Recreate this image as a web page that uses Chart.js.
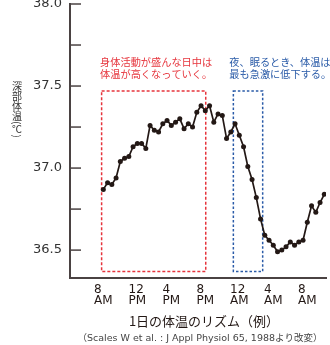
<!DOCTYPE html>
<html>
<head>
<meta charset="utf-8">
<script src="https://cdn.jsdelivr.net/npm/chart.js@4.4.0/dist/chart.umd.min.js"></script>
<style>
  html, body { margin: 0; padding: 0; background: #fff; }
</style>
</head>
<body>
<canvas id="chart" width="330" height="345"></canvas>
<script>
// 🔹 DATA  (core body temperature every 30 min, 8 AM -> 10 AM next day; hour 24 = midnight)
const hours = [8, 8.5, 9, 9.5, 10, 10.5, 11, 11.5, 12, 12.5, 13, 13.5, 14, 14.5, 15, 15.5,
  16, 16.5, 17, 17.5, 18, 18.5, 19, 19.5, 20, 20.5, 21, 21.5, 22, 22.5, 23, 23.5,
  24, 24.5, 25, 25.5, 26, 26.5, 27, 27.5, 28, 28.5, 29, 29.5, 30, 30.5, 31, 31.5,
  32, 32.5, 33, 33.5, 34];
const temps = [36.87, 36.91, 36.90, 36.94, 37.04, 37.06, 37.07, 37.13, 37.15, 37.15,
  37.12, 37.26, 37.23, 37.22, 37.27, 37.29, 37.26, 37.28, 37.30, 37.24,
  37.27, 37.25, 37.34, 37.38, 37.35, 37.38, 37.28, 37.33, 37.32, 37.18,
  37.22, 37.27, 37.20, 37.13, 37.01, 36.93, 36.82, 36.69, 36.59, 36.56,
  36.53, 36.49, 36.50, 36.52, 36.55, 36.53, 36.55, 36.56, 36.67, 36.77,
  36.73, 36.79, 36.84];

const xTickHours = [8, 12, 16, 20, 24, 28, 32];
const xTickLabels = [["8", "AM"], ["12", "PM"], ["4", "PM"], ["8", "PM"], ["12", "AM"], ["4", "AM"], ["8", "AM"]];
const yTicks = [36.5, 36.75, 37.0, 37.25, 37.5, 37.75, 38.0];
const yLabelled = [36.5, 37.0, 37.5, 38.0];

// highlighted ranges: [hour from, hour to, temp from, temp to]
const dayBox = [7.8, 20.05, 36.37, 37.47];
const nightBox = [23.3, 26.75, 36.37, 37.47];

const dayNote = ["身体活動が盛んな日中は", "体温が高くなっていく。"];
const nightNote = ["夜、眠るとき、体温は", "最も急激に低下する。"];
const yTitle = "深部体温(℃)";
const xTitle = "1日の体温のリズム（例）";
const source = "（Scales W et al. : J Appl Physiol 65, 1988より改変）";

// 🔹 STYLE
const ink = "#231815";
const axisColor = "#4a4242";
const red = "#e6343c";
const blue = "#2a5ba8";
const jp = '"Noto Sans CJK JP", sans-serif';

// 🔥 extra drawing: inward ticks, dashed boxes, notes, titles
const decor = {
  id: "decor",
  beforeDatasetsDraw(chart) {
    const { ctx, scales: { x, y } } = chart;
    ctx.save();

    // y ticks point inward
    ctx.strokeStyle = axisColor;
    ctx.lineWidth = 1.5;
    yTicks.forEach(v => {
      const py = y.getPixelForValue(v);
      ctx.beginPath();
      ctx.moveTo(x.left, py);
      ctx.lineTo(x.left + 11, py);
      ctx.stroke();
    });

    const box = (b, color, dash) => {
      const x0 = x.getPixelForValue(b[0]), x1 = x.getPixelForValue(b[1]);
      const y0 = y.getPixelForValue(b[3]), y1 = y.getPixelForValue(b[2]);
      ctx.strokeStyle = color;
      ctx.lineWidth = 1.5;
      ctx.setLineDash(dash);
      ctx.strokeRect(x0, y0, x1 - x0, y1 - y0);
    };
    box(dayBox, red, [3, 2]);
    box(nightBox, blue, [2.5, 2]);
    ctx.restore();
  },
  afterDraw(chart) {
    const { ctx, chartArea, scales: { x } } = chart;
    ctx.save();

    // x tick labels, two lines, left aligned inside their block
    ctx.font = '12px "DejaVu Sans"';
    ctx.fillStyle = ink;
    ctx.textAlign = "left";
    ctx.textBaseline = "alphabetic";
    xTickHours.forEach((h, i) => {
      const px = x.getPixelForValue(h);
      const lines = xTickLabels[i];
      const w = Math.max(...lines.map(l => ctx.measureText(l).width));
      lines.forEach((l, j) => ctx.fillText(l, px - w / 2, chartArea.bottom + 15 + j * 11));
    });

    // notes
    ctx.font = "10.2px " + jp;
    ctx.textBaseline = "middle";
    ctx.fillStyle = red;
    dayNote.forEach((t, i) => ctx.fillText(t, x.getPixelForValue(dayBox[0]) - 1.5, 62.5 + i * 12));
    ctx.fillStyle = blue;
    nightNote.forEach((t, i) => ctx.fillText(t, x.getPixelForValue(nightBox[0]) - 4, 62.5 + i * 12));

    // vertical y title (tategaki)
    ctx.font = "10px " + jp;
    ctx.fillStyle = "#333";
    ctx.textAlign = "center";
    let cy = 81;
    for (const ch of yTitle) {
      if (ch === "(" || ch === ")") {
        const w = ctx.measureText(ch).width;
        ctx.save();
        ctx.translate(17, cy + w / 2);
        ctx.rotate(Math.PI / 2);
        ctx.fillText(ch, 0, 0);
        ctx.restore();
        cy += w;
      } else {
        ctx.fillText(ch, 17, cy + 5);
        cy += 10;
      }
    }

    // x title and source
    ctx.font = "13px " + jp;
    ctx.fillStyle = ink;
    ctx.fillText(xTitle, 204, chartArea.bottom + 43);
    ctx.font = '9.5px "DejaVu Sans", ' + jp;
    ctx.fillStyle = "#444";
    ctx.fillText(source, 200, chartArea.bottom + 61);
    ctx.restore();
  }
};

// 🔥 CHART
new Chart(document.getElementById("chart"), {
  type: "line",
  data: {
    datasets: [{
      data: hours.map((h, i) => ({ x: h, y: temps[i] })),
      borderColor: ink,
      backgroundColor: ink,
      borderWidth: 1.7,
      pointRadius: 2.5,
      pointHoverRadius: 2.5,
      pointBorderWidth: 0,
      tension: 0
    }]
  },
  options: {
    responsive: false,
    animation: false,
    devicePixelRatio: 1,
    layout: { autoPadding: false, padding: { left: 0, right: 4, top: 4, bottom: 0 } },
    plugins: { legend: { display: false }, tooltip: { enabled: false } },
    scales: {
      x: {
        type: "linear",
        min: 4.08,
        max: 34.2,
        grid: { display: false, drawTicks: false },
        border: { display: true, color: axisColor, width: 2 },
        ticks: { display: false },
        afterFit: s => { s.height = 67; s.paddingLeft = 0; s.paddingRight = 0; }
      },
      y: {
        min: 36.33,
        max: 38.0,
        grid: { display: false, drawTicks: false },
        border: { display: true, color: axisColor, width: 2 },
        afterBuildTicks: s => { s.ticks = yTicks.map(v => ({ value: v })); },
        ticks: {
          callback: v => yLabelled.includes(v) ? v.toFixed(1) : "",
          font: { family: "DejaVu Sans", size: 13 },
          color: "#333",
          padding: 8
        },
        afterFit: s => { s.width = 70; s.paddingTop = 0; s.paddingBottom = 0; }
      }
    }
  },
  plugins: [decor]
});
</script>
</body>
</html>
